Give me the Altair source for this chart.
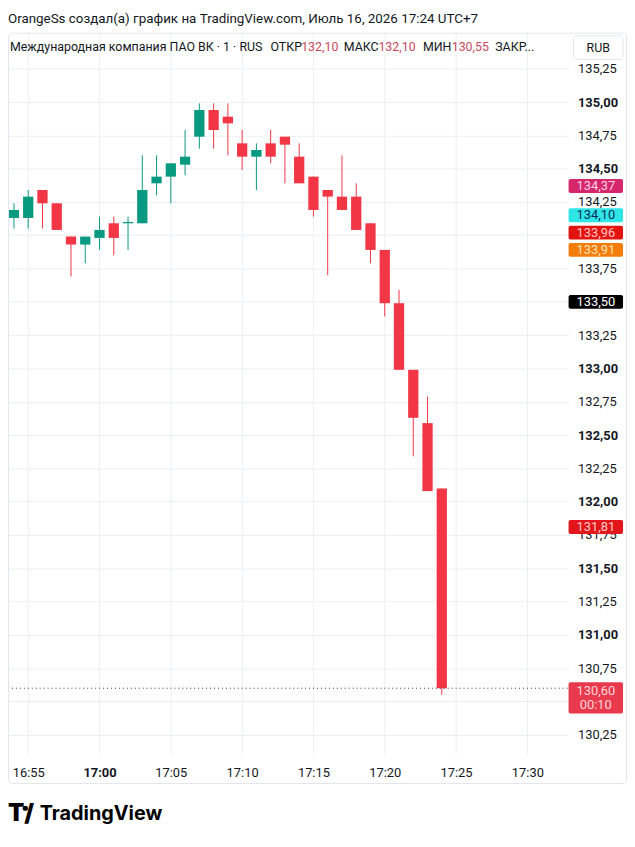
import altair as alt
import pandas as pd

# ---- data (minutes after 16:00) ----
minutes = list(range(54, 85))
opens = [134.13, 134.13, 134.34, 134.24, 133.99, 133.93, 133.98, 134.09, 134.09, 134.09,
         134.39, 134.44, 134.53, 134.74, 134.94, 134.89, 134.69, 134.59, 134.69, 134.74,
         134.59, 134.44, 134.34, 134.29, 134.29, 134.09, 133.89, 133.49, 132.99, 132.59, 132.10]
highs = [134.24, 134.34, 134.34, 134.24, 133.99, 133.99, 134.14, 134.14, 134.14, 134.60,
         134.60, 134.54, 134.79, 134.99, 134.99, 134.99, 134.79, 134.69, 134.79, 134.74,
         134.69, 134.44, 134.34, 134.60, 134.39, 134.09, 133.89, 133.59, 132.99, 132.79, 132.10]
lows = [134.05, 134.05, 134.05, 134.04, 133.69, 133.79, 133.89, 133.85, 133.89, 134.09,
        134.30, 134.24, 134.45, 134.65, 134.65, 134.60, 134.49, 134.34, 134.54, 134.39,
        134.39, 134.14, 133.70, 134.19, 134.04, 133.79, 133.39, 132.99, 132.34, 132.08, 130.55]
closes = [134.19, 134.29, 134.24, 134.04, 133.93, 133.99, 134.04, 133.98, 134.10, 134.34,
          134.44, 134.54, 134.59, 134.94, 134.79, 134.84, 134.59, 134.64, 134.59, 134.68,
          134.39, 134.19, 134.29, 134.19, 134.04, 133.89, 133.49, 132.99, 132.63, 132.08, 130.60]

# visible price-scale labels, and the grid levels whose labels are hidden behind price tags
price_ticks = [130.25, 130.75, 131.00, 131.25, 131.50, 131.75, 132.00, 132.25, 132.50,
               132.75, 133.00, 133.25, 133.75, 134.25, 134.50, 134.75, 135.00, 135.25]
hidden_ticks = [130.50, 133.50, 134.00]
time_ticks = [55, 60, 65, 70, 75, 80, 85, 90]

label_pos = [134.37, 134.15, 134.02, 133.89, 133.50, 131.81]
label_text = ["134,37", "134,10", "133,96", "133,91", "133,50", "131,81"]
label_fill = ["#d6266c", "#2ee6e6", "#e3140f", "#f47c0a", "#000000", "#e3161b"]
label_color = ["#ffd0e2", "#0d2b5a", "#ffc4c4", "#ffe2b3", "#ffffff", "#ffcaca"]

last_price = [130.60]
last_text = ["130,60"]
countdown = ["00:10"]

# ---- frames ----
candles = pd.DataFrame({"t": minutes, "open": opens, "high": highs, "low": lows, "close": closes})
labels = pd.DataFrame({"pos": label_pos, "txt": label_text, "fill": label_fill, "fc": label_color})
last = pd.DataFrame({"price": last_price, "txt": last_text, "cd": countdown})
hidden = pd.DataFrame({"p": hidden_ticks})
one = pd.DataFrame({"a": [0]})

W, H = 566, 728
FONT = "Roboto"
UP, DOWN = "#089981", "#f23645"
GRID = "#eceef2"

xscale = alt.Scale(domain=[53.583, 92.889], nice=False, zero=False)
yscale = alt.Scale(domain=[130.108, 135.520], nice=False, zero=False)

xaxis = alt.Axis(
    values=time_ticks, grid=True, gridColor=GRID, ticks=False, domain=False,
    labelPadding=13, labelFont=FONT, labelFontSize=13, labelColor="#131722", title=None,
    labelExpr="(datum.value >= 60 ? '17' : '16') + ':' + (datum.value % 60 < 10 ? '0' : '') + (datum.value % 60)",
    labelFontWeight={"condition": {"test": "datum.value == 60", "value": "bold"}, "value": "normal"},
    zindex=0,
)
yaxis = alt.Axis(
    orient="right", values=price_ticks, grid=True, gridColor=GRID, ticks=False, domain=False,
    labelPadding=9, labelFont=FONT, labelFontSize=13, labelColor="#131722", title=None,
    labelAlign="left", labelOverlap=False,
    labelExpr="replace(format(datum.value, '.2f'), '.', ',')",
    labelFontWeight={"condition": {"test": "datum.value % 0.5 == 0", "value": "bold"}, "value": "normal"},
    zindex=0,
)


def X(field):
    return alt.X(field, scale=xscale, axis=xaxis)


def Y(field):
    return alt.Y(field, scale=yscale, axis=yaxis)


hidden_grid = alt.Chart(hidden).mark_rule(color=GRID, strokeWidth=1).encode(
    y=Y("p:Q"), x=alt.value(0), x2=alt.value(W))

base = alt.Chart(candles).transform_calculate(
    col=f"datum.close >= datum.open ? '{UP}' : '{DOWN}'",
    x1="datum.t - 0.36",
    x2="datum.t + 0.36",
)

wicks = base.mark_rule(strokeWidth=1).encode(
    x=X("t:Q"), y=Y("low:Q"), y2="high:Q",
    color=alt.Color("col:N", scale=None),
)
bodies = base.mark_rect().encode(
    x=X("x1:Q"), x2="x2:Q", y=Y("open:Q"), y2="close:Q",
    color=alt.Color("col:N", scale=None),
)

dotted = alt.Chart(last).mark_rule(strokeDash=[1, 3], color="#333", strokeWidth=1).encode(
    y=Y("price:Q"), x=alt.value(0), x2=alt.value(W))

boxes = alt.Chart(labels).transform_calculate(
    lo="datum.pos - 0.052", hi="datum.pos + 0.052"
).mark_rect(cornerRadius=2).encode(
    x=alt.value(W), x2=alt.value(W + 55),
    y=Y("lo:Q"), y2="hi:Q",
    color=alt.Color("fill:N", scale=None),
)
box_text = alt.Chart(labels).mark_text(font=FONT, fontSize=13, align="center", baseline="middle").encode(
    x=alt.value(W + 27.5), y=Y("pos:Q"),
    text="txt:N", color=alt.Color("fc:N", scale=None),
)

last_box = alt.Chart(last).transform_calculate(
    lo="datum.price - 0.19", hi="datum.price + 0.045"
).mark_rect(cornerRadius=2, color="#e8394d").encode(
    x=alt.value(W), x2=alt.value(W + 55),
    y=Y("lo:Q"), y2="hi:Q",
)
last_t1 = alt.Chart(last).mark_text(font=FONT, fontSize=13, align="center", baseline="middle",
                                    color="#ffd6dc", dy=3).encode(
    x=alt.value(W + 27.5), y=Y("price:Q"), text="txt:N")
last_t2 = alt.Chart(last).mark_text(font=FONT, fontSize=13, align="center", baseline="middle",
                                    color="#ffd6dc", dy=17).encode(
    x=alt.value(W + 27.5), y=Y("price:Q"), text="cd:N")


def txt(s, x, y, size=12.5, color="#131722", weight="normal", font=FONT, align="left"):
    return alt.Chart(one).mark_text(text=s, font=font, fontSize=size, color=color,
                                    fontWeight=weight, align=align, baseline="middle").encode(
        x=alt.value(x), y=alt.value(y))


border = alt.Chart(one).mark_rect(fill="#ffffff", fillOpacity=0, stroke="#e3e6ec",
                                  strokeWidth=1, cornerRadius=4).encode(
    x=alt.value(0.5), x2=alt.value(624.5), y=alt.value(0.5), y2=alt.value(758))
rub_box = alt.Chart(one).mark_rect(fill="white", stroke="#e3e6ec", strokeWidth=1, cornerRadius=3).encode(
    x=alt.value(571), x2=alt.value(621), y=alt.value(3), y2=alt.value(27))

RED = "#c94a60"
header = [
    txt("OrangeSs создал(а) график на TradingView.com, Июль 16, 2026 17:24 UTC+7", 0, -14, size=13.5),
    txt("Международная компания ПАО ВК · 1 · RUS", 2, 14),
    txt("ОТКР", 265, 14), txt("132,10", 296, 14, color=RED),
    txt("МАКС", 339, 14), txt("132,10", 374, 14, color=RED),
    txt("МИН", 419, 14), txt("130,55", 448, 14, color=RED),
    txt("ЗАКР...", 492, 14),
    txt("RUB", 596, 15, align="center"),
]

logo = [
    txt("T", 0, 789, size=24, color="#000000", weight=900, font="Inter"),
    alt.Chart(one).mark_circle(size=28, color="#000000", opacity=1).encode(x=alt.value(17.5), y=alt.value(783)),
    txt("/", 16.5, 789, size=24, color="#000000", weight=900, font="Inter"),
    txt("TradingView", 32, 789, size=20, color="#000000", weight="bold", font="Inter"),
]

chart = alt.layer(
    hidden_grid, wicks, bodies, dotted, rub_box, *header, boxes, box_text, last_box, last_t1, last_t2,
    *logo, border
).properties(
    width=W, height=H,
    padding={"left": 0, "top": 21, "right": 59, "bottom": 78},
    autosize=alt.AutoSizeParams(type="none"),
    background="white",
).configure_view(stroke=None)

chart.save("out.html", embed_options={"renderer": "svg", "actions": False})
